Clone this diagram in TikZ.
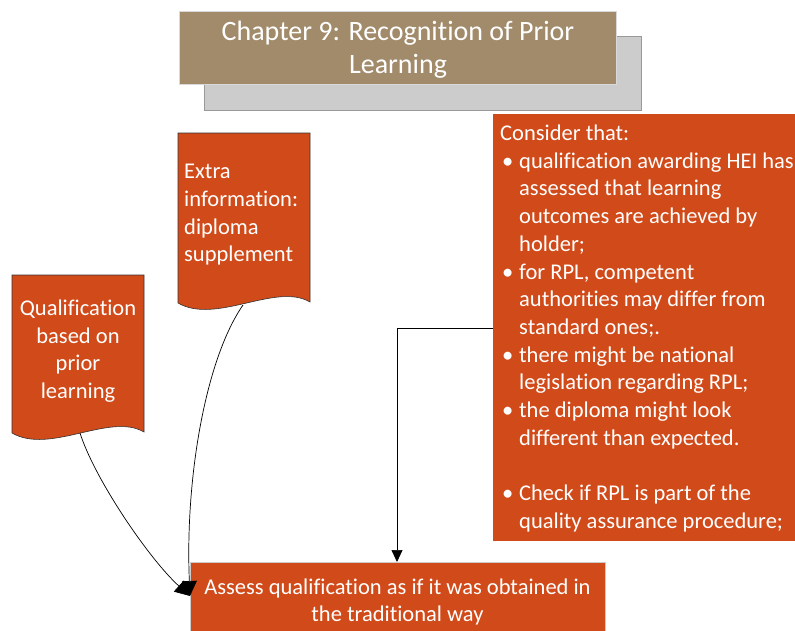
\documentclass[tikz,border=0pt]{standalone}
\usepackage{fontspec}
\setmainfont{Carlito}[Ligatures=NoCommon]
\usetikzlibrary{arrows.meta}
\definecolor{rpl}{RGB}{209,74,25}
\definecolor{titlebrown}{RGB}{162,139,106}
\definecolor{shadowgray}{RGB}{204,204,204}
\tikzset{
  docshape/.style={fill=rpl,draw=black!80,line width=0.6pt},
  doctext/.style={text=white,font=\fontsize{22.5}{27.7}\selectfont,inner sep=0pt},
  conn/.style={draw=black,line width=0.7pt},
  bigtip/.style={-{Triangle[length=15pt,width=15pt]}},
}
\newcommand{\bul}{\hspace{2pt}\makebox[17pt][l]{\textbullet}}
\begin{document}
\begin{tikzpicture}[x=1pt,y=-1pt]
\useasboundingbox (0,0) rectangle (795,630);
% title with shadow
\fill[shadowgray,draw=black!40,line width=0.6pt] (204,36) rectangle (641,110);
\node[fill=titlebrown,draw=white!85!black,line width=0.6pt,minimum width=437pt,minimum height=73pt,anchor=north west,inner sep=0pt] (title) at (179,11) {};
\node[text=white,align=center,font=\fontsize{28}{33}\selectfont,inner sep=0pt] (titletext) at (398,49.5) {Chapter 9: Recognition of Prior\\Learning};
% qualification document shape
\draw[docshape] (12,275) -- (144,275) -- (144,432) .. controls (110,412) and (50,455) .. (12,433) -- cycle;
\node[doctext,align=center] (qual) at (78,351) {Qualification\\based on\\prior\\learning};
\coordinate (qualbottom) at (80,433);
% extra information document shape
\draw[docshape] (178,133) -- (310,133) -- (310,302) .. controls (276,282) and (216,325) .. (178,303) -- cycle;
\node[doctext,align=left,anchor=west] (extra) at (184,215) {Extra\\information:\\diploma\\supplement};
\coordinate (extrabottom) at (243,305);
% consider box
\node[fill=rpl,minimum width=302pt,minimum height=427pt,anchor=north west,inner sep=0pt] (cons) at (493,114) {};
\node[text=white,anchor=north west,inner sep=0pt,font=\fontsize{22.5}{27.7}\selectfont] (constext) at (500,121)
{\begin{tabular}{@{}l@{}l@{}}
\multicolumn{2}{@{}l@{}}{Consider that:}\\
\bul & qualification awarding HEI has\\
 & assessed that learning\\
 & outcomes are achieved by\\
 & holder;\\
\bul & for RPL, competent\\
 & authorities may differ from\\
 & standard ones;.\\
\bul & there might be national\\
 & legislation regarding RPL;\\
\bul & the diploma might look\\
 & different than expected.\\
 & \\
\bul & Check if RPL is part of the\\
 & quality assurance procedure;
\end{tabular}};
% assess box
\node[fill=rpl,draw=white!80!black,line width=0.5pt,minimum width=415pt,minimum height=72pt,anchor=north west,inner sep=0pt] (assess) at (190,562) {};
\node[text=white,align=center,font=\fontsize{22.5}{27.7}\selectfont,inner sep=0pt] (assesstext) at (397.5,602) {Assess qualification as if it was obtained in\\the traditional way};
\coordinate (assessin) at (190,596);
% connectors
\draw[conn,bigtip] (qualbottom) .. controls (95,480) and (150,560) .. (assessin);
\draw[conn,bigtip] (extrabottom) .. controls (205,360) and (185,480) .. (assessin);
\draw[conn,-{Triangle[length=12pt,width=11pt]}] (cons.west |- 0,328) -- (397,328) -- (397,562);
\end{tikzpicture}
\end{document}
